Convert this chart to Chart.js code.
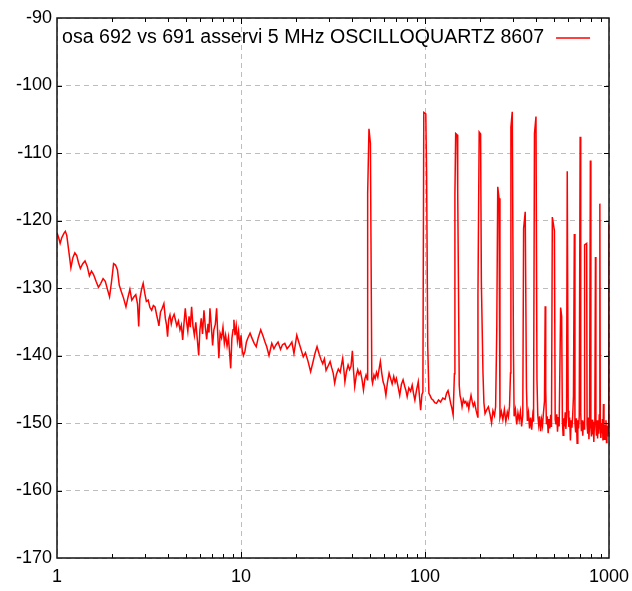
<!DOCTYPE html>
<html>
<head>
<meta charset="utf-8">
<script src="https://cdn.jsdelivr.net/npm/chart.js@4/dist/chart.umd.min.js"></script>
<style>
html,body{margin:0;padding:0;background:#fff;}
#c{display:block;}
</style>
</head>
<body>
<canvas id="c" width="632" height="591"></canvas>
<script>
const seriesLabel = 'osa 692 vs 691 asservi 5 MHz OSCILLOQUARTZ 8607';
const xTickValues = [1, 10, 100, 1000];
const yMin = -170, yMax = -90, yStep = 10;

// 1 Hz .. 10.3 Hz
const freqA = [
1.00,1.02,1.04,1.06,1.09,1.11,1.13,1.16,1.19,1.22,
1.25,1.28,1.31,1.34,1.38,1.42,1.46,1.50,1.54,1.58,
1.63,1.68,1.73,1.78,1.83,1.88,1.93,1.98,2.03,2.08,
2.13,2.18,2.24,2.30,2.37,2.43,2.49,2.55,2.62,2.68,
2.74,2.78,2.82,2.88,2.94,3.00,3.06,3.13,3.20,3.27,
3.34,3.41,3.48,3.54,3.58,3.65,3.73,3.81,3.88,3.94,
3.99,4.05,4.11,4.18,4.25,4.33,4.40,4.48,4.57,4.66,
4.74,4.82,4.90,4.98,5.06,5.14,5.22,5.30,5.39,5.48,
5.58,5.68,5.78,5.89,5.98,6.08,6.18,6.29,6.40,6.51,
6.62,6.70,6.78,6.90,7.01,7.12,7.25,7.37,7.48,7.58,
7.70,7.84,7.98,8.12,8.25,8.40,8.55,8.68,8.79,8.92,
9.05,9.15,9.28,9.42,9.56,9.70,9.87,10.0,10.15,10.3];
const levelA = [
-121.8,-122.5,-123.4,-122.6,-121.9,-121.6,-122.2,-124.6,-127.0,-125.5,
-124.8,-125.2,-126.3,-127.1,-126.4,-126.0,-126.8,-128.2,-127.5,-128.0,
-129.0,-129.9,-129.3,-128.6,-129.0,-130.2,-131.3,-129.0,-126.4,-126.6,
-127.3,-129.6,-130.6,-131.5,-132.8,-131.4,-130.2,-131.8,-131.3,-131.0,
-132.4,-135.7,-131.6,-130.2,-129.3,-130.8,-132.0,-131.8,-132.9,-133.3,
-132.6,-132.8,-134.0,-134.9,-135.6,-133.6,-133.0,-132.3,-134.5,-135.5,
-137.2,-134.6,-134.0,-135.3,-134.4,-133.9,-134.7,-135.6,-134.9,-136.2,
-135.5,-137.7,-135.2,-133.0,-135.0,-136.4,-134.2,-135.8,-132.8,-135.6,
-137.0,-135.1,-137.4,-140.0,-136.2,-134.5,-136.8,-133.3,-135.8,-137.6,
-135.3,-136.6,-133.0,-135.7,-138.5,-136.2,-135.4,-133.0,-137.0,-140.4,
-136.7,-137.4,-135.8,-138.2,-137.0,-138.6,-137.3,-139.8,-141.9,-137.5,
-136.2,-134.7,-137.0,-135.6,-137.8,-136.4,-138.9,-137.0,-139.2,-140.0];

// 10.5 Hz .. 48.6 Hz
const freqB = [
10.5,10.7,10.9,11.2,11.5,11.8,12.1,12.4,12.8,13.2,
13.5,13.8,14.2,14.7,15.1,15.5,15.9,16.4,16.8,17.3,
17.8,18.3,18.9,19.4,20.1,20.6,21.2,21.8,22.4,23.1,
23.9,24.6,25.3,25.9,26.6,27.2,27.8,28.4,29.0,29.7,
30.5,31.1,31.7,32.3,33.0,33.8,34.6,35.2,35.7,36.2,
36.7,37.4,38.2,38.9,39.6,40.3,40.9,41.5,42.3,43.1,
43.8,44.6,45.5,46.3,47.1,47.8,48.6];
const levelB = [
-139.4,-138.0,-137.4,-136.7,-137.5,-138.2,-138.7,-137.4,-136.2,-137.2,
-138.0,-138.7,-140.0,-138.2,-139.0,-138.4,-138.0,-139.1,-138.4,-138.2,
-139.0,-138.6,-138.0,-139.7,-137.0,-138.0,-139.1,-140.2,-139.6,-140.8,
-142.4,-141.0,-139.6,-138.7,-139.8,-140.6,-141.2,-140.5,-142.2,-141.6,
-140.9,-141.8,-142.6,-144.1,-142.8,-142.0,-142.5,-141.3,-140.4,-142.0,
-143.9,-142.4,-141.4,-142.1,-141.6,-139.3,-142.3,-144.6,-143.0,-142.1,
-142.8,-142.4,-143.6,-145.1,-143.5,-142.9,-143.6];

// 48.8 Hz .. 97.4 Hz (50 Hz line)
const freqC = [
48.8,49.6,50.5,51.4,51.9,52.8,53.6,54.5,55.4,56.3,
57.2,58.2,59.2,60.2,61.3,62.5,63.8,65.0,66.3,67.6,
68.8,69.9,71.4,72.9,74.4,76.0,77.6,78.8,80.0,81.7,
83.5,85.2,86.6,88.1,90.0,91.9,93.3,94.7,96.2,97.4];
const levelC = [
-116.0,-106.4,-108.6,-143.5,-144.1,-142.9,-143.4,-142.5,-143.2,-142.0,
-140.9,-142.6,-143.9,-144.5,-145.9,-144.0,-142.6,-143.4,-144.2,-143.1,
-144.0,-143.4,-144.6,-145.9,-144.3,-143.6,-144.6,-145.2,-146.1,-144.8,
-145.3,-144.4,-145.6,-146.6,-145.1,-143.9,-146.0,-148.1,-145.8,-145.4];

// 98.5 Hz .. 1000 Hz (harmonics of 50 Hz)
const freqD = [
98.5,101.0,102.0,103.5,105.0,106.5,108.5,110.6,113.0,115.4,
118.5,121.5,125.0,128.5,131.0,133.4,135.5,137.9,140.0,142.2,
144.5,145.4,146.8,149.5,150.6,153.5,155.0,157.0,159.0,161.5,
164.0,166.5,169.0,171.0,173.0,175.5,177.9,180.5,183.0,186.0,
189.5,193.4,194.0,197.0,200.5,202.5,206.5,209.0,212.0,216.0,
221.0,226.0,230.0,234.0,238.5,242.0,245.5,248.5,252.5,255.5,
260.0,265.0,270.0,275.0,280.0,284.0,288.0,291.5,293.0,298.0,
302.5,305.0,310.0,315.0,320.0,325.0,330.0,335.0,340.0,343.5,
350.5,356.0,360.0,365.0,370.0,375.0,380.0,385.0,389.0,393.5,
401.0,406.0,410.0,415.0,420.0,425.0,430.0,435.0,440.0,446.0,
450.0,453.0,457.0,462.0,467.0,472.0,477.0,482.0,487.0,492.0,
505.0,510.0,515.0,520.0,525.0,530.0,536.0,546.0,553.0,558.0,
563.0,568.0,573.0,578.0,583.0,588.0,593.0,600.0,605.0,611.0,
617.0,623.0,629.0,635.0,641.0,648.0,653.0,659.0,665.0,671.0,
677.0,683.0,689.0,697.0,702.0,708.0,714.0,720.0,726.0,732.0,
737.0,756.0,760.0,766.0,772.0,778.0,784.0,792.0,797.0,803.0,
809.0,815.0,821.0,827.0,833.0,838.0,844.0,849.0,855.0,861.0,
867.0,873.0,879.0,885.0,892.0,897.0,903.0,909.0,915.0,921.0,
927.0,933.0,939.0,945.0,951.0,957.0,963.0,969.0,975.0,981.0,
987.0,993.0,997.0,1000.0];
const levelD = [
-104.0,-104.2,-112.8,-138.7,-145.6,-145.9,-146.4,-146.6,-147.0,-147.1,
-146.6,-146.9,-146.3,-146.5,-145.6,-145.2,-146.0,-147.1,-147.8,-148.8,
-142.7,-116.2,-107.1,-107.3,-115.7,-144.4,-145.9,-146.6,-147.6,-146.5,
-147.0,-146.8,-147.4,-147.0,-147.9,-146.8,-145.9,-146.8,-147.5,-147.0,
-148.1,-149.1,-131.0,-106.9,-107.2,-129.3,-142.4,-147.0,-148.6,-148.1,
-147.6,-148.8,-150.0,-148.2,-148.9,-147.6,-136.2,-115.0,-116.7,-149.2,
-148.3,-149.5,-148.0,-149.8,-148.4,-149.1,-147.5,-142.6,-106.2,-103.9,
-139.2,-149.0,-148.0,-150.2,-148.5,-149.6,-148.3,-150.5,-148.8,-121.2,
-118.7,-145.0,-149.7,-148.5,-150.8,-149.2,-151.0,-148.9,-149.8,-107.1,
-104.6,-143.6,-148.8,-150.3,-149.0,-151.2,-149.5,-150.4,-148.6,-146.8,
-132.7,-145.0,-150.2,-149.0,-151.5,-149.4,-150.8,-148.8,-150.6,-119.5,
-121.5,-149.5,-150.2,-148.7,-151.3,-149.1,-150.5,-132.9,-134.2,-149.8,
-151.8,-149.3,-150.5,-148.4,-150.9,-149.0,-112.7,-148.2,-150.6,-149.2,
-152.6,-149.6,-150.7,-148.8,-146.0,-122.0,-150.0,-151.4,-149.3,-153.0,
-149.6,-150.8,-149.0,-107.6,-148.5,-151.2,-149.6,-151.9,-149.8,-150.9,
-123.6,-123.4,-150.2,-151.6,-149.2,-152.4,-150.0,-111.1,-150.6,-152.0,
-149.5,-151.7,-149.8,-152.8,-150.2,-147.8,-125.4,-150.5,-151.9,-149.6,
-152.3,-150.1,-151.6,-148.8,-117.5,-150.7,-152.2,-150.0,-151.5,-149.4,
-152.6,-147.2,-150.8,-152.4,-150.3,-151.7,-149.6,-152.9,-150.4,-151.2,
-152.0,-150.0,-151.5,-120.4];

const freqs = freqA.concat(freqB, freqC, freqD);
const levels = levelA.concat(levelB, levelC, levelD);
const points = freqs.map((f, i) => ({x: f, y: levels[i]}));

const FONT = "'Liberation Sans', Arial, sans-serif";

const framePlugin = {
  id: 'frame',
  afterDatasetsDraw(chart) {
    const {ctx, chartArea: a, scales: {x, y}} = chart;
    ctx.save();
    ctx.strokeStyle = '#000';
    ctx.lineWidth = 1;
    for (let d = 1; d < 1000; d *= 10) {
      for (let k = 1; k <= 10; k++) {
        const v = k * d;
        if (v <= 1 || v >= 1000) continue;
        const px = Math.round(x.getPixelForValue(v)) + 0.5;
        const len = (k === 10) ? 6 : 4;
        ctx.beginPath();
        ctx.moveTo(px, a.bottom); ctx.lineTo(px, a.bottom - len);
        ctx.moveTo(px, a.top); ctx.lineTo(px, a.top + len);
        ctx.stroke();
      }
    }
    for (let v = yMin + yStep; v < yMax; v += yStep) {
      const py = Math.round(y.getPixelForValue(v)) + 0.5;
      ctx.beginPath();
      ctx.moveTo(a.left, py); ctx.lineTo(a.left + 5, py);
      ctx.moveTo(a.right, py); ctx.lineTo(a.right - 5, py);
      ctx.stroke();
    }
    ctx.lineWidth = 1.5;
    ctx.strokeStyle = '#111';
    ctx.strokeRect(a.left, a.top, a.right - a.left, a.bottom - a.top);
    // legend inside plot
    ctx.font = '19.6px ' + FONT;
    ctx.fillStyle = '#000';
    ctx.textBaseline = 'middle';
    ctx.textAlign = 'left';
    ctx.fillText(seriesLabel, a.left + 5, a.top + 20);
    const tw = ctx.measureText(seriesLabel).width;
    const lx = a.left + 5 + tw + 12;
    ctx.strokeStyle = '#ff0000';
    ctx.lineWidth = 1.3;
    ctx.beginPath();
    ctx.moveTo(lx, a.top + 20); ctx.lineTo(lx + 34, a.top + 20);
    ctx.stroke();
    ctx.restore();
  }
};

new Chart(document.getElementById('c'), {
  type: 'line',
  data: {
    datasets: [{
      label: seriesLabel,
      data: points,
      borderColor: '#ff0000',
      borderWidth: 1.5,
      pointRadius: 0,
      tension: 0,
      fill: false
    }]
  },
  options: {
    responsive: false,
    devicePixelRatio: 1,
    animation: false,
    layout: {padding: {top: 18, right: 23, left: 0, bottom: 0}},
    plugins: {legend: {display: false}, tooltip: {enabled: false}},
    scales: {
      x: {
        type: 'logarithmic',
        min: 1, max: 1000,
        afterBuildTicks: s => { s.ticks = xTickValues.map(v => ({value: v})); },
        afterFit: s => { s.height = 33; s.paddingLeft = 0; s.paddingRight = 0; },
        ticks: {
          color: '#000', font: {family: FONT, size: 18}, padding: 8,
          maxRotation: 0, autoSkip: false,
          callback: v => String(v)
        },
        grid: {color: '#bdbdbd', lineWidth: 1, drawTicks: false},
        border: {display: false, dash: [5, 4]}
      },
      y: {
        type: 'linear',
        min: yMin, max: yMax,
        afterFit: s => { s.width = 57; s.paddingTop = 0; s.paddingBottom = 0; },
        ticks: {
          stepSize: yStep,
          color: '#000', font: {family: FONT, size: 18}, padding: 5
        },
        grid: {color: '#bdbdbd', lineWidth: 1, drawTicks: false},
        border: {display: false, dash: [5, 4]}
      }
    }
  },
  plugins: [framePlugin]
});
</script>
</body>
</html>
